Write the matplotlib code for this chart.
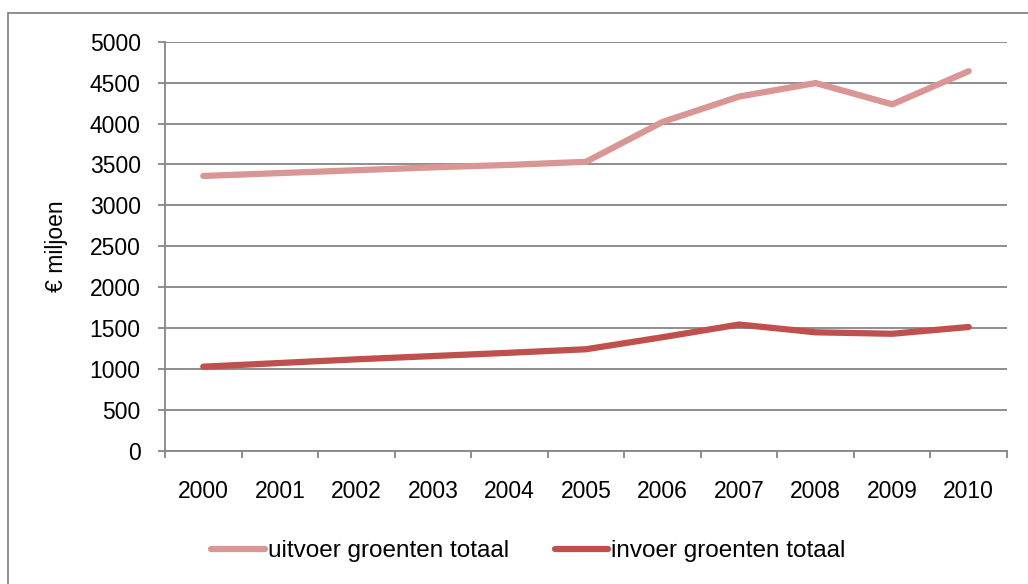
import matplotlib
matplotlib.use("Agg")
import matplotlib.pyplot as plt
from matplotlib.patches import Rectangle
from matplotlib.lines import Line2D

plt.rcParams['font.family'] = ['Liberation Sans', 'DejaVu Sans']

years = ['2000', '2001', '2002', '2003', '2004', '2005', '2006', '2007', '2008', '2009', '2010']
uitvoer = [3360, 3395, 3430, 3465, 3495, 3533, 4020, 4330, 4495, 4235, 4640]
invoer = [1030, 1075, 1120, 1160, 1200, 1243, 1390, 1545, 1450, 1432, 1515]
y_ticks = list(range(0, 5001, 500))

GRAY = '#868686'
C_UIT = '#D99694'
C_IN = '#C0504D'
FS = 16.5

fig = plt.figure(figsize=(10.28, 5.84), dpi=100)
# outer chart frame (only top/left visible in the crop)
fig.patches.append(Rectangle((8 / 1028, -0.1), 1.2, 1 - 13 / 584 + 0.1,
                             transform=fig.transFigure, fill=False,
                             edgecolor=GRAY, linewidth=1.3))

ax = fig.add_axes([165 / 1028, 133 / 584, 842 / 1028, 409.3 / 584])
x = list(range(len(years)))
ax.plot(x, uitvoer, color=C_UIT, lw=4.5, solid_capstyle='round', solid_joinstyle='round', zorder=3)
ax.plot(x, invoer, color=C_IN, lw=4.5, solid_capstyle='round', solid_joinstyle='round', zorder=3)

ax.set_xlim(-0.5, len(years) - 0.5)
ax.set_ylim(0, 5000)
ax.set_yticks(y_ticks)
ax.yaxis.grid(True, color=GRAY, lw=1.3)
ax.set_axisbelow(True)

ax.set_xticks([i - 0.5 for i in range(len(years) + 1)])
ax.set_xticklabels([])
ax.set_xticks(x, minor=True)
ax.set_xticklabels(years, minor=True, fontsize=FS)
ax.tick_params(axis='x', which='minor', length=0, pad=21)
ax.tick_params(axis='x', which='major', length=5, width=1.3, color=GRAY, direction='out')
ax.tick_params(axis='y', length=5, width=1.3, color=GRAY, labelsize=FS, pad=12.5)

for s in ['top', 'right']:
    ax.spines[s].set_visible(False)
for s in ['left', 'bottom']:
    ax.spines[s].set_color(GRAY)
    ax.spines[s].set_linewidth(1.3)

fig.text(56 / 1028, 1 - 246 / 584, '€ miljoen', rotation=90, fontsize=FS,
         ha='center', va='center')

handles = [Line2D([], [], color=C_UIT, lw=4.5, solid_capstyle='round'),
           Line2D([], [], color=C_IN, lw=4.5, solid_capstyle='round')]
fig.legend(handles, ['uitvoer groenten totaal', 'invoer groenten totaal'],
           loc='center', bbox_to_anchor=(0.514, 1 - 551 / 584), ncol=2,
           frameon=False, fontsize=17.5, handlelength=2.2, handletextpad=0.12,
           columnspacing=1.9)

fig.savefig('out.png', dpi=100)
